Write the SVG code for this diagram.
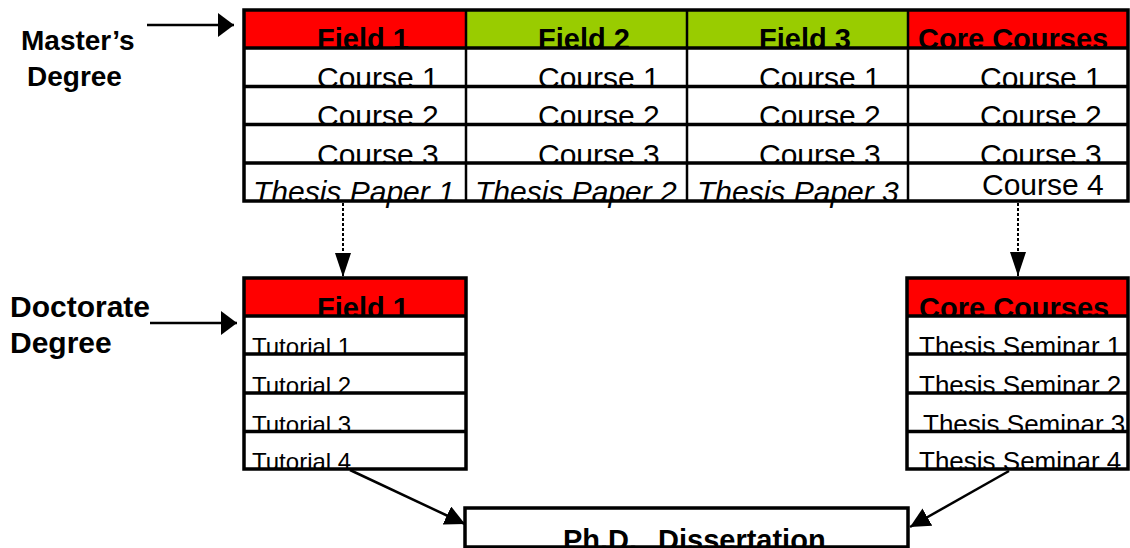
<svg xmlns="http://www.w3.org/2000/svg" width="1130" height="548" viewBox="0 0 1130 548">
<style>
text{font-family:"Liberation Sans",Arial,sans-serif;fill:#000}
.hb{font-size:29px;font-weight:bold}
.t{font-size:30px}
.ti{font-size:30px;font-style:italic}
.tut{font-size:24px}
.sem{font-size:26px}
.lbl{font-weight:bold}
.red{fill:#FF0000}
.green{fill:#99CC00}
.cell{fill:#FFFFFF}
.hline{stroke:#000;stroke-width:3.5;fill:none}
.vline{stroke:#000;stroke-width:2.5;fill:none}
.frame{stroke:#000;stroke-width:3.5;fill:none}
.conn{stroke:#000;stroke-width:2.5;fill:none}
.dot{stroke:#000;stroke-width:2;fill:none;stroke-dasharray:3 2}
</style>
<defs>
<marker id="arrWide" markerUnits="userSpaceOnUse" markerWidth="16" markerHeight="24" refX="16" refY="12" orient="auto"><path d="M0,0 L16,12 L0,24 z" fill="#000"/></marker>
<marker id="arrNarrow" markerUnits="userSpaceOnUse" markerWidth="24" markerHeight="16" refX="24" refY="8" orient="auto"><path d="M0,0 L24,8 L0,16 z" fill="#000"/></marker>
<marker id="arrMid" markerUnits="userSpaceOnUse" markerWidth="20" markerHeight="20" refX="20" refY="10" orient="auto"><path d="M0,0 L20,10 L0,20 z" fill="#000"/></marker>
</defs>

<g id="label-masters" class="lbl">
<text x="21" y="50" font-size="28">Master’s</text>
<text x="27" y="86" font-size="28">Degree</text>
</g>
<g id="label-doctorate" class="lbl">
<text x="10" y="317" font-size="30">Doctorate</text>
<text x="10" y="353" font-size="30">Degree</text>
</g>

<g id="m-field1">
<rect class="red" x="244" y="10" width="222" height="38"/>
<text class="hb" x="317" y="49">Field 1</text>
<rect class="cell" x="244" y="48" width="222" height="38.5"/>
<text class="t" x="317" y="88">Course 1</text>
<rect class="cell" x="244" y="86.5" width="222" height="38"/>
<text class="t" x="317" y="126">Course 2</text>
<rect class="cell" x="244" y="124.5" width="222" height="38.5"/>
<text class="t" x="317" y="164.5">Course 3</text>
<rect class="cell" x="244" y="163" width="222" height="38"/>
<text class="ti" x="253" y="202">Thesis Paper 1</text>
</g>
<g id="m-field2">
<rect class="green" x="466" y="10" width="221" height="38"/>
<text class="hb" x="538" y="49">Field 2</text>
<rect class="cell" x="466" y="48" width="221" height="38.5"/>
<text class="t" x="538" y="88">Course 1</text>
<rect class="cell" x="466" y="86.5" width="221" height="38"/>
<text class="t" x="538" y="126">Course 2</text>
<rect class="cell" x="466" y="124.5" width="221" height="38.5"/>
<text class="t" x="538" y="164.5">Course 3</text>
<rect class="cell" x="466" y="163" width="221" height="38"/>
<text class="ti" x="475" y="202">Thesis Paper 2</text>
</g>
<g id="m-field3">
<rect class="green" x="687" y="10" width="221" height="38"/>
<text class="hb" x="759" y="49">Field 3</text>
<rect class="cell" x="687" y="48" width="221" height="38.5"/>
<text class="t" x="759" y="88">Course 1</text>
<rect class="cell" x="687" y="86.5" width="221" height="38"/>
<text class="t" x="759" y="126">Course 2</text>
<rect class="cell" x="687" y="124.5" width="221" height="38.5"/>
<text class="t" x="759" y="164.5">Course 3</text>
<rect class="cell" x="687" y="163" width="221" height="38"/>
<text class="ti" x="697" y="202">Thesis Paper 3</text>
</g>
<g id="m-core">
<rect class="red" x="908" y="10" width="220" height="38"/>
<text class="hb" x="918" y="49">Core Courses</text>
<rect class="cell" x="908" y="48" width="220" height="38.5"/>
<text class="t" x="980" y="88">Course 1</text>
<rect class="cell" x="908" y="86.5" width="220" height="38"/>
<text class="t" x="980" y="126">Course 2</text>
<rect class="cell" x="908" y="124.5" width="220" height="38.5"/>
<text class="t" x="980" y="164.5">Course 3</text>
<rect class="cell" x="908" y="163" width="220" height="38"/>
<text class="t" x="982" y="195">Course 4</text>
</g>
<g id="m-grid">
<path class="hline" d="M244,48H1128M244,86.5H1128M244,124.5H1128M244,163H1128"/>
<path class="vline" d="M466,10V201M687,10V201M908,10V201"/>
<rect class="frame" x="244" y="10" width="884" height="191"/>
</g>

<g id="d-field1">
<rect class="red" x="244" y="278" width="222" height="38"/>
<text class="hb" x="317" y="317.5">Field 1</text>
<rect class="cell" x="244" y="316" width="222" height="38"/>
<text class="tut" x="252" y="355">Tutorial 1</text>
<rect class="cell" x="244" y="354" width="222" height="39"/>
<text class="tut" x="252" y="394">Tutorial 2</text>
<rect class="cell" x="244" y="393" width="222" height="38.5"/>
<text class="tut" x="252" y="432.5">Tutorial 3</text>
<rect class="cell" x="244" y="431.5" width="222" height="37.5"/>
<text class="tut" x="252" y="470">Tutorial 4</text>
<path class="hline" d="M244,316H466M244,354H466M244,393H466M244,431.5H466"/>
<rect class="frame" x="244" y="278" width="222" height="191"/>
</g>

<g id="d-core">
<rect class="red" x="907" y="278" width="221" height="38"/>
<text class="hb" x="919" y="318">Core Courses</text>
<rect class="cell" x="907" y="316" width="221" height="38"/>
<text class="sem" x="919" y="355">Thesis Seminar 1</text>
<rect class="cell" x="907" y="354" width="221" height="39"/>
<text class="sem" x="919" y="394">Thesis Seminar 2</text>
<rect class="cell" x="907" y="393" width="221" height="38.5"/>
<text class="sem" x="923" y="432.5">Thesis Seminar 3</text>
<rect class="cell" x="907" y="431.5" width="221" height="37.5"/>
<text class="sem" x="919" y="470">Thesis Seminar 4</text>
<path class="hline" d="M907,316H1128M907,354H1128M907,393H1128M907,431.5H1128"/>
<rect class="frame" x="907" y="278" width="221" height="191"/>
</g>

<g id="phd">
<rect class="cell" x="465" y="508" width="443" height="39"/>
<text class="hb" font-size="30" x="563" y="550">Ph.D.</text>
<text class="hb" font-size="30" x="658" y="550">Dissertation</text>
<rect class="frame" x="465" y="508" width="443" height="39"/>
</g>

<g id="connectors">
<line class="conn" x1="147" y1="25" x2="234" y2="25" marker-end="url(#arrWide)"/>
<line class="conn" x1="150" y1="323" x2="237" y2="323" marker-end="url(#arrWide)"/>
<line class="dot" x1="343" y1="203" x2="343" y2="277" marker-end="url(#arrNarrow)"/>
<line class="dot" x1="1018" y1="203" x2="1018" y2="276" marker-end="url(#arrNarrow)"/>
<line class="conn" x1="350" y1="470" x2="465" y2="524" marker-end="url(#arrMid)"/>
<line class="conn" x1="1009" y1="471" x2="910" y2="527" marker-end="url(#arrMid)"/>
</g>
</svg>
